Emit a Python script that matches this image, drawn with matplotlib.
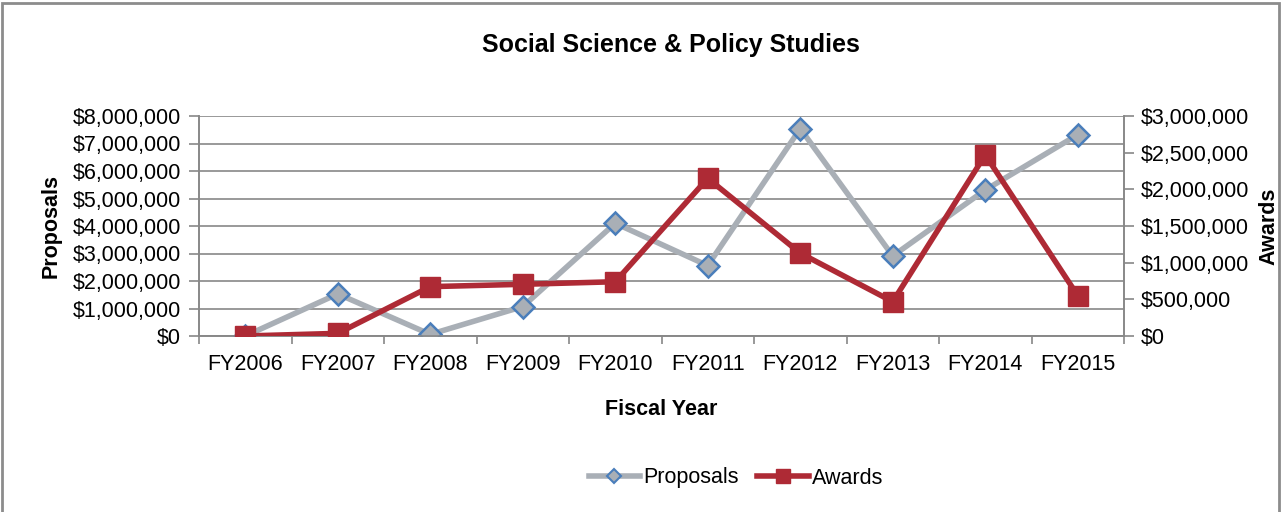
import matplotlib
matplotlib.use("Agg")
import matplotlib.pyplot as plt
from matplotlib.ticker import FuncFormatter, FixedLocator
from matplotlib.patches import Rectangle
from matplotlib.lines import Line2D

plt.rcParams['font.family'] = ['Liberation Sans', 'DejaVu Sans']

years = ['FY2006', 'FY2007', 'FY2008', 'FY2009', 'FY2010',
         'FY2011', 'FY2012', 'FY2013', 'FY2014', 'FY2015']
proposals = [0, 1530000, 60000, 1070000, 4100000,
             2560000, 7540000, 2910000, 5310000, 7320000]
awards = [0, 36000, 673000, 705000, 740000,
          2150000, 1130000, 468000, 2470000, 550000]

GREY = '#a9afb6'
RED = '#ae2a35'
BLUE = '#4a7ebb'
AXC = '#888888'
FS = 15.5

fig = plt.figure(figsize=(12.83, 5.12), dpi=100)
ax = fig.add_axes([199/1283, 1-336/512, (1124-199)/1283, 220/512])
ax2 = ax.twinx()

x = list(range(len(years)))
ax.plot(x, proposals, color=GREY, lw=4, marker='D', ms=11,
        mfc=GREY, mec=BLUE, mew=1.8, zorder=3)
ax2.plot(x, awards, color=RED, lw=4, marker='s', ms=14,
         mfc=RED, mec=RED, zorder=3)

money = FuncFormatter(lambda v, p: '${:,.0f}'.format(v))

ax.set_xlim(-0.5, 9.5)
ax.set_ylim(0, 8000000)
ax.set_yticks(range(0, 8000001, 1000000))
ax.yaxis.set_major_formatter(money)
ax2.set_ylim(0, 3000000)
ax2.set_yticks(range(0, 3000001, 500000))
ax2.yaxis.set_major_formatter(money)

ax.set_xticks(x)
ax.set_xticklabels(years)
ax.xaxis.set_minor_locator(FixedLocator([i - 0.5 for i in range(11)]))
ax.tick_params(axis='x', which='major', length=0, labelsize=FS, pad=13)
ax.tick_params(axis='x', which='minor', length=6, color=AXC, width=1.2)
ax.tick_params(axis='y', length=7, color=AXC, width=1.2, labelsize=FS, pad=6)
ax2.tick_params(axis='y', length=7, color=AXC, width=1.2, labelsize=FS, pad=5)

ax.grid(axis='y', color=AXC, lw=1.2)
ax.set_axisbelow(True)
for a in (ax, ax2):
    a.spines['top'].set_visible(False)
    for s in ('left', 'right', 'bottom'):
        a.spines[s].set_color(AXC)
        a.spines[s].set_linewidth(1.2)

ax.set_ylabel('Proposals', fontsize=FS, fontweight='bold', labelpad=8)
ax2.set_ylabel('Awards', fontsize=FS, fontweight='bold', labelpad=7)
ax.set_xlabel('Fiscal Year', fontsize=FS, fontweight='bold', labelpad=17)

fig.text(0.523, 1-45/512, 'Social Science & Policy Studies',
         ha='center', va='center', fontsize=18, fontweight='bold')

handles = [
    Line2D([], [], color=GREY, lw=4, marker='D', ms=7, mfc=GREY, mec=BLUE, mew=1.5),
    Line2D([], [], color=RED, lw=4, marker='s', ms=10, mfc=RED, mec=RED),
]
fig.legend(handles, ['Proposals', 'Awards'], loc='center',
           bbox_to_anchor=(0.5737, 1-478/512), ncol=2, frameon=False,
           fontsize=FS, handlelength=2.4, handletextpad=0.15, columnspacing=0.85)

fig.add_artist(Rectangle((2/1283, -0.02), 1277/1283, 1.02 - 3/512,
                         transform=fig.transFigure, fill=False,
                         ec='#8c8c8c', lw=2))

fig.savefig('out.png', dpi=100)
